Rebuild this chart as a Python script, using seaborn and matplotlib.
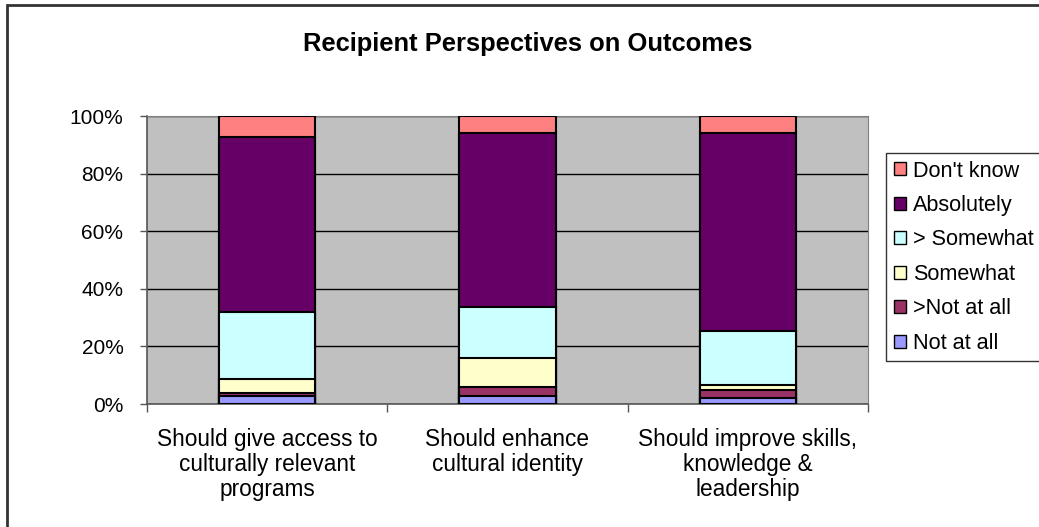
import pandas as pd
import seaborn as sns
import numpy as np
import matplotlib.pyplot as plt
from matplotlib.patches import Patch, Rectangle

categories = ["Should give access to\nculturally relevant\nprograms",
              "Should enhance\ncultural identity",
              "Should improve skills,\nknowledge &\nleadership"]

not_at_all = [2.8, 2.8, 2.1]
gt_not_at_all = [1.0, 3.2, 2.8]
somewhat = [5.0, 10.1, 1.8]
gt_somewhat = [23.2, 17.7, 18.8]
absolutely = [60.8, 60.2, 68.5]
dont_know = [7.2, 6.0, 6.0]

series_names = ["Not at all", ">Not at all", "Somewhat", "> Somewhat", "Absolutely", "Don't know"]
series_vals = [not_at_all, gt_not_at_all, somewhat, gt_somewhat, absolutely, dont_know]
colors = ["#9999FF", "#993366", "#FFFFCC", "#CCFFFF", "#660066", "#FF8080"]

sns.set_style("white")
plt.rcParams["font.family"] = ["Liberation Sans", "DejaVu Sans"]
plt.rcParams["text.color"] = "black"
plt.rcParams["xtick.color"] = "black"
plt.rcParams["ytick.color"] = "black"

df = pd.DataFrame(dict(zip(series_names, series_vals)), index=categories)
cum = df.cumsum(axis=1)

fig = plt.figure(figsize=(10.39, 5.27), dpi=100)
ax = fig.add_axes([147/1039, 1-404/527, 721/1039, 288/527])
ax.set_facecolor("#C0C0C0")

# draw cumulative totals from the top down so each segment shows
for name, col in reversed(list(zip(series_names, colors))):
    d = pd.DataFrame({"cat": categories, "val": cum[name].values})
    sns.barplot(data=d, x="cat", y="val", color=col, width=0.4, edgecolor="black",
                linewidth=1.5, saturation=1, errorbar=None, ax=ax, zorder=3)

ax.set_ylim(0, 100)
ax.set_xlim(-0.5, 2.5)
ax.set_yticks(np.arange(0, 101, 20))
ax.set_yticklabels([f"{v}%" for v in range(0, 101, 20)], fontsize=15)
ax.yaxis.grid(True, color="black", linewidth=1)
ax.set_axisbelow(True)
ax.set_xlabel("")
ax.set_ylabel("")
ax.tick_params(axis="y", length=5, width=1, color="#555555", pad=12, left=True)
ax.tick_params(axis="x", which="major", length=0, pad=17, labelsize=16.3)
ax.set_xticks([-0.5, 0.5, 1.5, 2.5], minor=True)
ax.tick_params(axis="x", which="minor", length=6, width=1, color="#555555", bottom=True)
for lbl in ax.get_xticklabels():
    lbl.set_linespacing(1.12)
for s in ["top", "right"]:
    ax.spines[s].set_color("#808080")
for s in ["left", "bottom"]:
    ax.spines[s].set_color("#555555")
    ax.spines[s].set_linewidth(1.2)

fig.text(0.508, 1-44/527, "Recipient Perspectives on Outcomes", ha="center", va="center",
         fontsize=18.4, fontweight="bold")

handles = [Patch(facecolor=c, edgecolor="black", label=n)
           for n, c in reversed(list(zip(series_names, colors)))]
leg = fig.legend(handles=handles, loc="upper left", bbox_to_anchor=(886/1039, 1-153/527),
                 fontsize=15.6, frameon=True, fancybox=False, edgecolor="black",
                 handlelength=0.55, handleheight=0.55, handletextpad=0.35,
                 labelspacing=0.62, borderpad=0.35, borderaxespad=0)
leg.get_frame().set_linewidth(1)

fig.patches.append(Rectangle((7/1039, -0.1), 1.2, 1.1-5/527, transform=fig.transFigure,
                             fill=False, edgecolor="#333333", linewidth=2))

fig.savefig("out.png", dpi=100)
